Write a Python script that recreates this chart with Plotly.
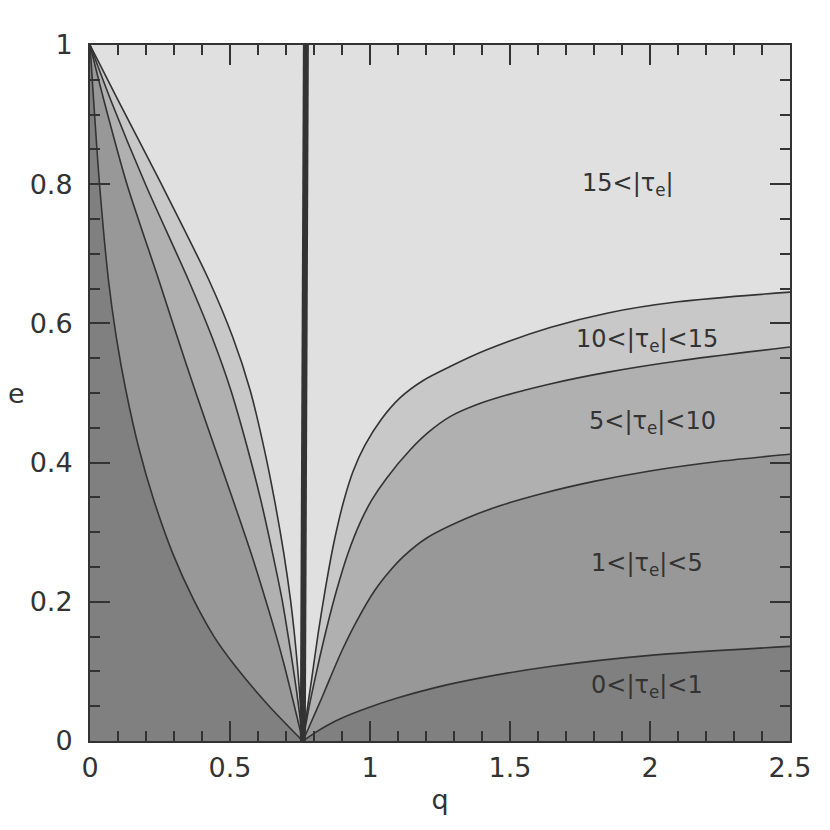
import plotly.graph_objects as go

# ---------------------------------------------------------------------------
# データ
# ---------------------------------------------------------------------------
Q0 = 0.760  # 全曲線が集まる点

# 左側の境界曲線: e に対する q
LEFT_E = [1.0, 0.92, 0.8, 0.662, 0.58, 0.504, 0.42, 0.346, 0.27, 0.203, 0.15, 0.107, 0.05, 0.0]
LEFT_Q = {
    "1":  [0.0, 0.013, 0.034, 0.066, 0.094, 0.128, 0.175, 0.228, 0.295, 0.370, 0.443, 0.520, 0.640, Q0],
    "5":  [0.0, 0.050, 0.132, 0.246, 0.312, 0.375, 0.447, 0.511, 0.575, 0.627, 0.666, 0.695, 0.730, Q0],
    "10": [0.0, 0.075, 0.198, 0.352, 0.436, 0.503, 0.563, 0.610, 0.652, 0.686, 0.708, 0.725, 0.745, Q0],
    "15": [0.0, 0.101, 0.255, 0.425, 0.510, 0.572, 0.622, 0.659, 0.692, 0.716, 0.731, 0.741, 0.752, Q0],
}

# 右側の境界曲線: q と e
RIGHT_Q = {
    "1":  [Q0, 0.80, 0.845, 0.90, 0.988, 1.10, 1.226, 1.40, 1.643, 2.0, 2.5],
    "5":  [Q0, 0.78, 0.804, 0.83, 0.857, 0.90, 0.952, 1.018, 1.07, 1.119, 1.20, 1.345, 1.464, 1.619, 1.80, 2.0, 2.25, 2.5],
    "10": [Q0, 0.775, 0.79, 0.821, 0.85, 0.881, 0.92, 0.964, 1.006, 1.06, 1.143, 1.21, 1.286, 1.38, 1.488, 1.643, 1.85, 2.1, 2.5],
    "15": [Q0, 0.772, 0.792, 0.815, 0.839, 0.87, 0.905, 0.94, 0.982, 1.04, 1.107, 1.19, 1.286, 1.417, 1.643, 1.85, 2.1, 2.5],
}
RIGHT_E = {
    "1":  [0.0, 0.011, 0.022, 0.033, 0.047, 0.062, 0.076, 0.091, 0.107, 0.123, 0.136],
    "5":  [0.0, 0.018, 0.040, 0.064, 0.090, 0.130, 0.172, 0.217, 0.244, 0.265, 0.291, 0.320, 0.338, 0.356, 0.373, 0.388, 0.402, 0.412],
    "10": [0.0, 0.033, 0.064, 0.121, 0.170, 0.217, 0.268, 0.313, 0.346, 0.378, 0.418, 0.444, 0.466, 0.483, 0.497, 0.513, 0.530, 0.546, 0.566],
    "15": [0.0, 0.035, 0.090, 0.155, 0.215, 0.283, 0.343, 0.388, 0.425, 0.462, 0.493, 0.518, 0.538, 0.562, 0.594, 0.615, 0.631, 0.645],
}

# 領域の塗り色（明るい方から）
REGION_COLORS = {"15": "#c8c8c8", "10": "#b0b0b0", "5": "#989898", "1": "#808080"}
BG_COLOR = "#e0e0e0"

# 太い縦線（|τ_e| 発散）
VLINE_Q = [0.760, 0.771]
VLINE_E = [0.0, 1.0]

# ラベル
LABELS = [
    (1.92, 0.800, "15&lt;|τ<sub>e</sub>|"),
    (1.99, 0.576, "10&lt;|τ<sub>e</sub>|&lt;15"),
    (2.01, 0.457, "5&lt;|τ<sub>e</sub>|&lt;10"),
    (1.99, 0.253, "1&lt;|τ<sub>e</sub>|&lt;5"),
    (1.99, 0.078, "0&lt;|τ<sub>e</sub>|&lt;1"),
]

LINE_COLOR = "#333333"
FONT = "DejaVu Sans"

fig = go.Figure()

# 塗り（外側から順に重ねる）
for key in ["15", "10", "5", "1"]:
    xs = LEFT_Q[key] + RIGHT_Q[key][1:] + [2.5, 0.0, 0.0]
    ys = LEFT_E + RIGHT_E[key][1:] + [0.0, 0.0, 1.0]
    fig.add_trace(go.Scatter(
        x=xs, y=ys, mode="lines", fill="toself",
        fillcolor=REGION_COLORS[key], line=dict(width=0),
        hoverinfo="skip", showlegend=False,
    ))

# 境界線
for key in ["15", "10", "5", "1"]:
    fig.add_trace(go.Scatter(
        x=LEFT_Q[key], y=LEFT_E, mode="lines",
        line=dict(color=LINE_COLOR, width=1.6, shape="spline", smoothing=0.8),
        showlegend=False,
    ))
    fig.add_trace(go.Scatter(
        x=RIGHT_Q[key], y=RIGHT_E[key], mode="lines",
        line=dict(color=LINE_COLOR, width=1.6, shape="spline", smoothing=0.8),
        showlegend=False,
    ))

fig.add_trace(go.Scatter(
    x=VLINE_Q, y=VLINE_E, mode="lines",
    line=dict(color=LINE_COLOR, width=6), showlegend=False,
))

for x, y, txt in LABELS:
    fig.add_annotation(
        x=x, y=y, text=txt, showarrow=False,
        font=dict(family=FONT, size=24, color=LINE_COLOR),
    )

# 縦軸タイトル（位置をそろえるため注釈で配置）
fig.add_annotation(
    x=0, y=0.5, xref="paper", yref="paper", xshift=-84,
    text="e", showarrow=False,
    font=dict(family=FONT, size=27, color=LINE_COLOR),
)

axis_common = dict(
    showgrid=False, zeroline=False, automargin=False,
    showline=True, linecolor=LINE_COLOR, linewidth=2, mirror="ticks",
    ticks="inside", ticklen=20, tickwidth=2, tickcolor=LINE_COLOR,
    tickfont=dict(family=FONT, size=27, color=LINE_COLOR),
)

fig.update_xaxes(
    range=[0, 2.5], dtick=0.5, tick0=0, ticklabelstandoff=2,
    minor=dict(dtick=0.1, ticks="inside", ticklen=10, tickwidth=2, tickcolor=LINE_COLOR),
    title=dict(text="q", font=dict(family=FONT, size=27, color=LINE_COLOR), standoff=8),
    **axis_common,
)
fig.update_yaxes(
    range=[0, 1], dtick=0.2, tick0=0, ticklabelstandoff=10,
    minor=dict(dtick=0.05, ticks="inside", ticklen=10, tickwidth=2, tickcolor=LINE_COLOR),
    **axis_common,
)

# ページ余白 8px を考慮して描画領域を 90..790, 45..741 に合わせる
fig.update_layout(
    width=822, height=822,
    margin=dict(l=82, r=40, t=37, b=89),
    plot_bgcolor=BG_COLOR, paper_bgcolor="white",
    showlegend=False,
)

fig.write_html("out.html")
